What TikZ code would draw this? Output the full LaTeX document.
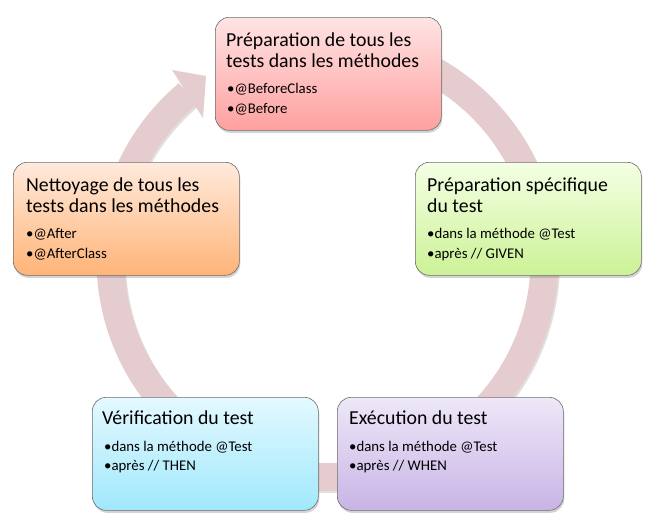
\documentclass[tikz,border=0pt]{standalone}
\usepackage{fontspec}
\setmainfont{Carlito}
\usetikzlibrary{shadows,calc}
\definecolor{ringc}{RGB}{229,205,207}
\definecolor{edgec}{RGB}{110,110,110}
\definecolor{redT}{RGB}{255,228,228}\definecolor{redB}{RGB}{255,160,160}
\definecolor{orgT}{RGB}{255,234,220}\definecolor{orgB}{RGB}{255,180,120}
\definecolor{grnT}{RGB}{244,255,228}\definecolor{grnB}{RGB}{204,242,150}
\definecolor{cyaT}{RGB}{228,249,255}\definecolor{cyaB}{RGB}{160,232,252}
\definecolor{lavT}{RGB}{238,232,248}\definecolor{lavB}{RGB}{200,180,230}
\tikzset{
  box/.style={rectangle, rounded corners=14pt, draw=edgec, line width=0.6pt,
    minimum width=226pt, minimum height=113pt, anchor=north west, inner sep=0pt,
    drop shadow={shadow xshift=1pt, shadow yshift=-2.5pt, opacity=0.35}},
  ttl/.style={anchor=base west, inner sep=0pt, font=\fontsize{19.8}{21.5}\selectfont},
  blt/.style={anchor=base west, inner sep=0pt, font=\fontsize{14.8}{19}\selectfont}
}
\begin{document}
\begin{tikzpicture}[x=1pt,y=-1pt]
\useasboundingbox (0,0) rectangle (655,525);
\coordinate (c) at (327.5,260);
% ring shadow
\draw[black, opacity=0.12, line width=28pt] ($(c)+(1.5,2)$) ++(-130:217) arc[start angle=-130, end angle=-445, radius=217];
% ring
\draw[ringc, line width=28pt] (c) ++(-130:217) arc[start angle=-130, end angle=-445, radius=217];
\coordinate (ha) at (172,70);
\coordinate (ht) at (206,76);
\coordinate (hc) at (203,118);
\fill[ringc] (ha) -- (ht) -- (hc) -- cycle;

% boxes
\node[box, top color=redT, bottom color=redB] (b1) at (215,17) {};
\node[box, top color=grnT, bottom color=grnB] (b2) at (415,162) {};
\node[box, top color=lavT, bottom color=lavB] (b3) at (337,397) {};
\node[box, top color=cyaT, bottom color=cyaB] (b4) at (92,397) {};
\node[box, top color=orgT, bottom color=orgB] (b5) at (13,162) {};

% texts
\node[ttl] (t1a) at ($(b1.north west)+(11,29)$) {Préparation de tous les};
\node[ttl] (t1b) at ($(b1.north west)+(11,50)$) {tests dans les méthodes};
\node[blt] (t1c) at ($(b1.north west)+(12,76)$) {•@BeforeClass};
\node[blt] (t1d) at ($(b1.north west)+(12,96)$) {•@Before};

\node[ttl] (t2a) at ($(b2.north west)+(12,29)$) {Préparation spécifique};
\node[ttl] (t2b) at ($(b2.north west)+(12,50)$) {du test};
\node[blt] (t2c) at ($(b2.north west)+(12,76)$) {•dans la méthode @Test};
\node[blt] (t2d) at ($(b2.north west)+(12,96)$) {•après // GIVEN};

\node[ttl] (t3a) at ($(b3.north west)+(12,27)$) {Exécution du test};
\node[blt] (t3c) at ($(b3.north west)+(12,54)$) {•dans la méthode @Test};
\node[blt] (t3d) at ($(b3.north west)+(12,73)$) {•après // WHEN};

\node[ttl] (t4a) at ($(b4.north west)+(10,27)$) {Vérification du test};
\node[blt] (t4c) at ($(b4.north west)+(12,54)$) {•dans la méthode @Test};
\node[blt] (t4d) at ($(b4.north west)+(12,73)$) {•après // THEN};

\node[ttl] (t5a) at ($(b5.north west)+(13,29)$) {Nettoyage de tous les};
\node[ttl] (t5b) at ($(b5.north west)+(13,50)$) {tests dans les méthodes};
\node[blt] (t5c) at ($(b5.north west)+(13,76)$) {•@After};
\node[blt] (t5d) at ($(b5.north west)+(13,96)$) {•@AfterClass};
\end{tikzpicture}
\end{document}
